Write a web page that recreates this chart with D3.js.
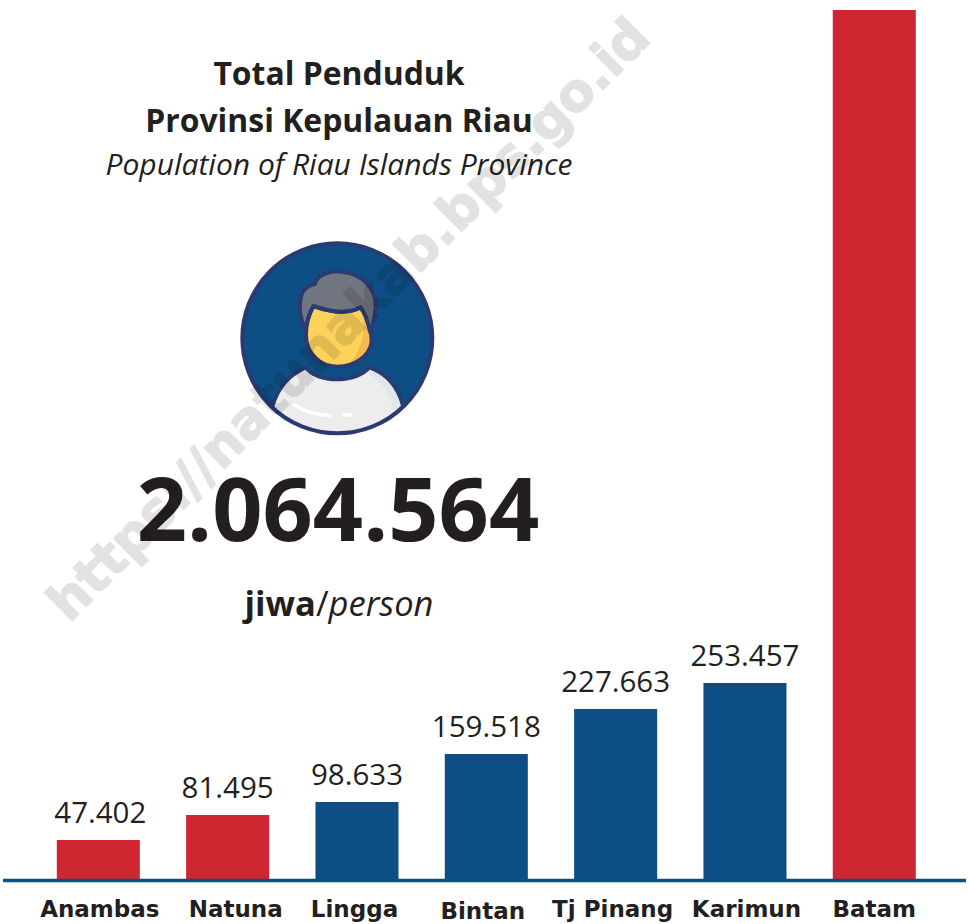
<!DOCTYPE html>
<meta charset="utf-8">
<title>Total Penduduk Provinsi Kepulauan Riau</title>
<script src="https://d3js.org/d3.v7.min.js"></script>
<style>
  body { margin: 0; background: #fff; }
  svg { display: block; }
  text { font-family: "Open Sans", sans-serif; fill: #231f20; }
  .value { font-size: 29.5px; text-anchor: middle; }
  .tick text { font-family: "DejaVu Sans", sans-serif; font-size: 23px; font-weight: 700; }
  .title { font-size: 31.9px; font-weight: 700; text-anchor: middle; }
  .subtitle { font-size: 30px; font-style: italic; text-anchor: middle; }
  .total { font-size: 88px; font-weight: 700; text-anchor: middle; }
  .unit { font-size: 34.5px; text-anchor: middle; }
  .watermark { font-family: "DejaVu Sans", sans-serif; font-size: 52.4px; font-weight: 700; fill: #000; stroke: #000; stroke-width: 1.5px; opacity: .11; text-anchor: middle; }
</style>
<div id="chart"></div>
<script>
  var districts = ["Anambas", "Natuna", "Lingga", "Bintan", "Tj Pinang", "Karimun", "Batam"];
  // printed labels, Batam has none in the picture
  var valueLabels = ["47.402", "81.495", "98.633", "159.518", "227.663", "253.457", ""];
  // bar lengths (they are not quite in proportion to the labels)
  var barValues = [51300, 83300, 100000, 161500, 219200, 252500, 1115000];
  var barColors = ["#d02632", "#d02632", "#0d4f85", "#0d4f85", "#0d4f85", "#0d4f85", "#d02632"];
  // the category labels are not all centred under their bars
  var labelShift = [1.5, 8, -2.5, -3.5, -3, 1.5, 0];
  var labelDrop = [0, 0, 0, 2, 0, 0, 0];
  var valueShift = [2, 0, 0, 0, 0, 0, 0];

  var titleLines = ["Total Penduduk", "Provinsi Kepulauan Riau"];
  var subtitle = "Population of Riau Islands Province";
  var totalLabel = "2.064.564";

  var width = 969, height = 924, baseline = 880;

  var svg = d3.select("#chart").append("svg")
    .attr("width", width)
    .attr("height", height);

  var x = d3.scaleBand()
    .domain(districts)
    .range([56.8, 915.8])
    .paddingInner(0.358)
    .paddingOuter(0);

  var y = d3.scaleLinear()
    .domain([0, 1115000])
    .range([baseline, 10]);

  // bars
  svg.selectAll("rect.bar")
    .data(districts)
    .enter().append("rect")
    .attr("class", "bar")
    .attr("x", function(d) { return x(d); })
    .attr("y", function(d, i) { return y(barValues[i]); })
    .attr("width", x.bandwidth())
    .attr("height", function(d, i) { return baseline - y(barValues[i]); })
    .attr("fill", function(d, i) { return barColors[i]; });

  // baseline
  svg.append("line")
    .attr("x1", 3)
    .attr("x2", 966)
    .attr("y1", baseline + 0.5)
    .attr("y2", baseline + 0.5)
    .attr("stroke", "#0d4f85")
    .attr("stroke-width", 3.5);

  // category axis
  var axis = svg.append("g")
    .attr("transform", "translate(0," + baseline + ")")
    .call(d3.axisBottom(x).tickSize(0));
  axis.select(".domain").remove();
  axis.selectAll(".tick text")
    .attr("y", 0)
    .attr("dx", function(d, i) { return labelShift[i]; })
    .attr("dy", function(d, i) { return 37 + labelDrop[i]; });

  // value labels
  svg.selectAll("text.value")
    .data(districts)
    .enter().append("text")
    .attr("class", "value")
    .attr("x", function(d, i) { return x(d) + x.bandwidth() / 2 + valueShift[i]; })
    .attr("y", function(d, i) { return y(barValues[i]) - 17; })
    .text(function(d, i) { return valueLabels[i]; });

  // headline block
  svg.append("text").attr("class", "title").attr("x", 339).attr("y", 85).text(titleLines[0]);
  svg.append("text").attr("class", "title").attr("x", 339).attr("y", 132).text(titleLines[1]);
  svg.append("text").attr("class", "subtitle").attr("x", 339).attr("y", 175).text(subtitle);
  svg.append("text").attr("class", "total").attr("x", 338).attr("y", 541).text(totalLabel);

  var unit = svg.append("text").attr("class", "unit").attr("x", 339).attr("y", 616);
  unit.append("tspan").attr("font-weight", 700).text("jiwa");
  unit.append("tspan").text("/");
  unit.append("tspan").attr("font-style", "italic").text("person");

  // person icon, drawn at 3x and scaled down
  var icon = svg.append("g").attr("transform", "translate(200,220) scale(0.3333)");
  var outline = "#2b3a72";

  icon.append("clipPath").attr("id", "badge")
    .append("circle").attr("cx", 412).attr("cy", 355).attr("r", 285);

  icon.append("circle")
    .attr("cx", 412).attr("cy", 355).attr("r", 285)
    .attr("fill", "#0d4f85");

  var inner = icon.append("g").attr("clip-path", "url(#badge)");

  var shirt = "M215,565 C235,495 270,465 318,442 C350,490 470,490 508,442 C560,460 595,500 610,560 C560,615 480,650 412,650 C340,650 265,610 215,565 Z";
  inner.append("path").attr("d", shirt).attr("fill", "#ededee");
  inner.append("path")
    .attr("d", "M508,442 C560,460 595,500 610,560 L585,580 C570,520 545,480 495,455 Z")
    .attr("fill", "#e0e6ea");
  inner.append("path").attr("d", shirt).attr("fill", "none").attr("stroke", outline).attr("stroke-width", 12);
  inner.append("path")
    .attr("d", "M283,555 C315,575 350,585 390,587")
    .attr("fill", "none").attr("stroke", "#fff").attr("stroke-width", 11).attr("stroke-linecap", "round");
  inner.append("path")
    .attr("d", "M433,586 L452,584")
    .attr("fill", "none").attr("stroke", "#fff").attr("stroke-width", 11).attr("stroke-linecap", "round");

  var face = "M340,258 C380,272 440,285 482,262 C500,280 515,330 515,365 C510,410 460,440 412,440 C360,440 318,400 318,345 C318,310 328,280 340,258 Z";
  icon.append("path").attr("d", face).attr("fill", "#fcd25a");
  icon.append("path")
    .attr("d", "M482,262 C500,280 515,330 515,365 C510,395 490,418 445,433 C480,400 505,340 482,262 Z")
    .attr("fill", "#f7b84f");
  icon.append("path").attr("d", face).attr("fill", "none").attr("stroke", outline).attr("stroke-width", 12);

  icon.append("path")
    .attr("d", "M316,330 C292,280 295,220 320,203 C332,194 345,192 345,192 C350,160 400,150 430,156 C490,162 530,210 527,260 C525,290 518,320 510,335 C505,310 495,280 482,262 C440,285 380,272 340,258 C328,280 320,305 316,330 Z")
    .attr("fill", "#70757f")
    .attr("stroke", outline)
    .attr("stroke-width", 12)
    .attr("stroke-linejoin", "round");

  icon.append("circle")
    .attr("cx", 412).attr("cy", 355).attr("r", 285)
    .attr("fill", "none")
    .attr("stroke", outline)
    .attr("stroke-width", 12);

  // watermark sits on top of everything
  svg.append("text")
    .attr("class", "watermark")
    .attr("transform", "translate(361,332) rotate(-45)")
    .text("https://natunakab.bps.go.id");
</script>
